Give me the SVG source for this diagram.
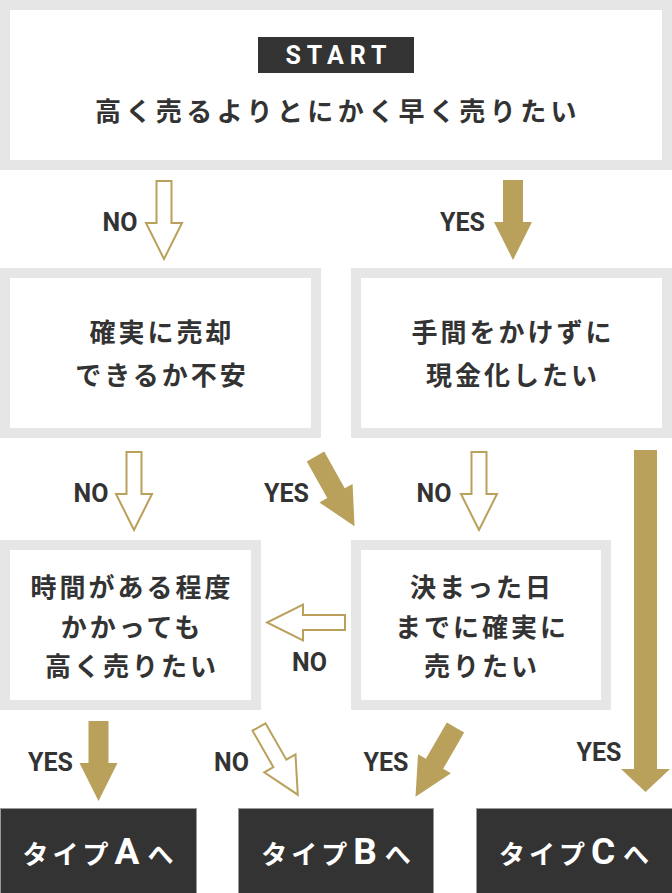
<svg xmlns="http://www.w3.org/2000/svg" width="672" height="893" viewBox="0 0 672 893">
<defs>
<style>
.box{fill:#fff;stroke:#e6e6e6;stroke-width:10}
.jp{font-family:"Noto Sans CJK JP","Noto Sans",sans-serif;font-weight:700;font-size:26px;fill:#333;letter-spacing:3px;text-anchor:middle}
.lbl{font-family:Roboto,"Liberation Sans",sans-serif;font-weight:700;font-size:25px;fill:#333;text-anchor:middle}
.solid{fill:#b9a15b}
.hollow{fill:#fff;stroke:#b9a15b;stroke-width:2;stroke-linejoin:miter}
.end{fill:#333;stroke:#9a9a9a;stroke-width:1}
.endt{font-family:"Noto Sans CJK JP","Noto Sans",sans-serif;font-weight:700;font-size:26px;fill:#fff;letter-spacing:4px;text-anchor:middle}
.big{font-family:Roboto,"Liberation Sans",sans-serif;font-size:37px}
</style>
<path id="sArrow" d="M-10,0 H10 V42 H19 L0,80 L-19,42 H-10 Z"/>
<path id="hArrow" d="M-7.5,0 H7.5 V42 H18 L0,78 L-18,42 H-7.5 Z"/>
</defs>

<g id="start">
<rect class="box" x="5" y="5" width="662" height="160"/>
<rect x="258" y="37" width="156" height="36" fill="#333"/>
<text x="339" y="64" font-family="Roboto,'Liberation Sans',sans-serif" font-weight="700" font-size="25" fill="#fff" letter-spacing="6" text-anchor="middle">START</text>
<text class="jp" x="338" y="121" style="letter-spacing:4.4px">高く売るよりとにかく早く売りたい</text>
</g>

<g id="q1">
<rect class="box" x="5" y="273" width="311" height="160"/>
<text class="jp" x="162" y="342">確実に売却</text>
<text class="jp" x="162" y="385">できるか不安</text>
</g>

<g id="q2">
<rect class="box" x="356" y="273" width="311" height="160"/>
<text class="jp" x="513" y="342">手間をかけずに</text>
<text class="jp" x="513" y="385">現金化したい</text>
</g>

<g id="q3">
<rect class="box" x="5" y="545" width="251" height="160"/>
<text class="jp" x="132" y="597">時間がある程度</text>
<text class="jp" x="132" y="637">かかっても</text>
<text class="jp" x="132" y="676">高く売りたい</text>
</g>

<g id="q4">
<rect class="box" x="356" y="545" width="250" height="160"/>
<text class="jp" x="482" y="597">決まった日</text>
<text class="jp" x="482" y="637">までに確実に</text>
<text class="jp" x="482" y="676">売りたい</text>
</g>

<g id="typeA">
<rect class="end" x="0.5" y="808.5" width="196" height="90"/>
<text class="endt" x="100" y="864">タイプ<tspan class="big" dx="2">A</tspan><tspan dx="4">へ</tspan></text>
</g>
<g id="typeB">
<rect class="end" x="238.5" y="808.5" width="195" height="90"/>
<text class="endt" x="338" y="864">タイプ<tspan class="big" dx="2">B</tspan><tspan dx="4">へ</tspan></text>
</g>
<g id="typeC">
<rect class="end" x="476.5" y="808.5" width="196" height="90"/>
<text class="endt" x="576" y="864">タイプ<tspan class="big" dx="2">C</tspan><tspan dx="4">へ</tspan></text>
</g>

<g id="connectors">
<use href="#hArrow" class="hollow" transform="translate(164,181)"/>
<use href="#sArrow" class="solid" transform="translate(513,180)"/>
<use href="#hArrow" class="hollow" transform="translate(134,452)"/>
<use href="#sArrow" class="solid" transform="translate(315.5,456.5) rotate(-29.2)"/>
<use href="#hArrow" class="hollow" transform="translate(479,452)"/>
<path class="solid" d="M634,450 H657 V769 H670 L645.5,792 L621,769 H634 Z"/>
<use href="#hArrow" class="hollow" transform="translate(345,622.5) rotate(90)"/>
<use href="#sArrow" class="solid" transform="translate(98.5,721)"/>
<use href="#hArrow" class="hollow" transform="translate(259,727) rotate(-29.8)"/>
<use href="#sArrow" class="solid" transform="translate(455.5,727.5) rotate(30)"/>

<text class="lbl" x="120" y="231">NO</text>
<text class="lbl" x="462.5" y="231">YES</text>
<text class="lbl" x="91" y="502">NO</text>
<text class="lbl" x="286.5" y="502">YES</text>
<text class="lbl" x="434" y="502">NO</text>
<text class="lbl" x="309.5" y="671">NO</text>
<text class="lbl" x="50.5" y="771">YES</text>
<text class="lbl" x="231.5" y="771">NO</text>
<text class="lbl" x="386" y="771">YES</text>
<text class="lbl" x="599" y="761">YES</text>
</g>
</svg>
